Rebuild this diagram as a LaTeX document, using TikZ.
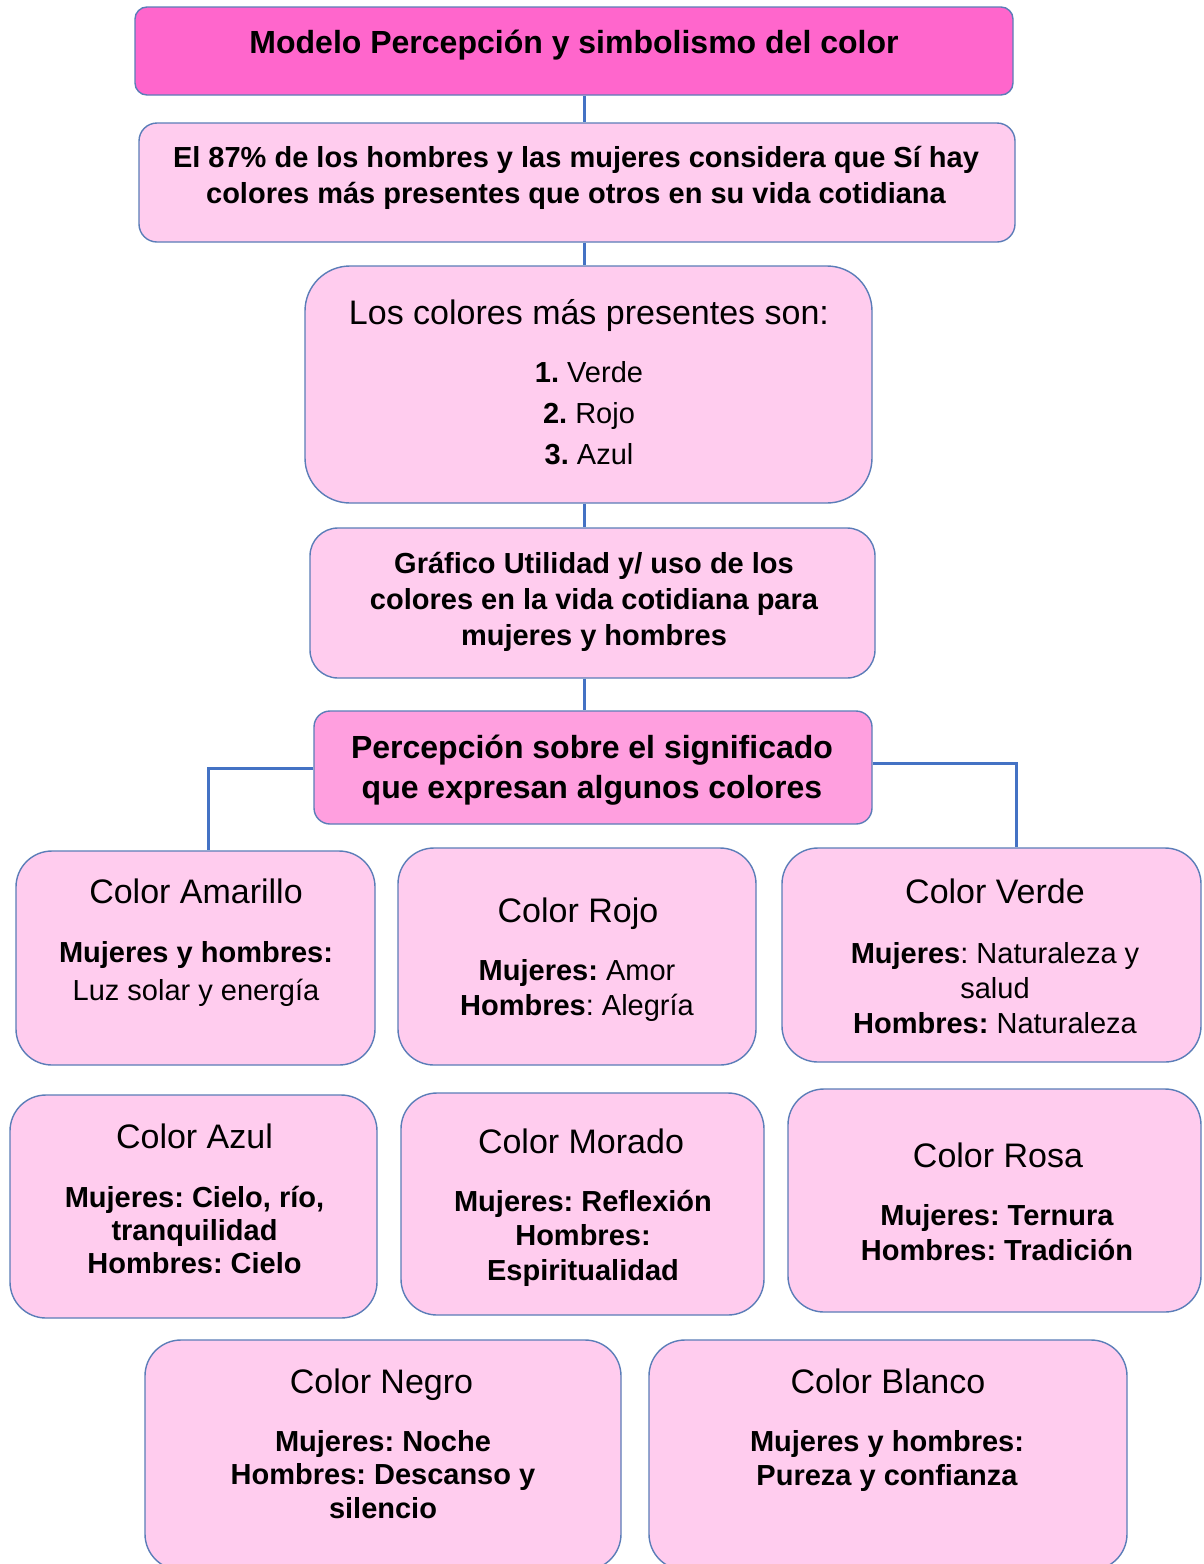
\documentclass[tikz,border=0pt]{standalone}
\usepackage{fontspec}
\setmainfont{Liberation Sans}
\frenchspacing
\definecolor{hotpink}{HTML}{FF66CC}
\definecolor{midpink}{HTML}{FF9FDF}
\definecolor{lpink}{HTML}{FFCCEE}
\definecolor{bordc}{HTML}{5B7DB8}
\definecolor{connc}{HTML}{4472C4}
\newcommand\mylines[3]{\fontsize{#1}{#2}\selectfont\begin{tabular}[t]{@{}c@{}}#3\end{tabular}}
\tikzset{
  bx/.style={draw=bordc, line width=1.4pt, fill=lpink, inner sep=0pt},
  tx/.style={anchor=base, inner sep=0pt, align=center, text=black, execute at begin node=\frenchspacing},
  conn/.style={draw=connc, line width=3pt},
}
\begin{document}
\begin{tikzpicture}[x=1pt,y=-1pt]
\useasboundingbox (0,0) rectangle (1203,1564);
\fill[white] (0,0) rectangle (1203,1564);
% boxes
\node[bx, fill=hotpink, minimum width=878, minimum height=88, rounded corners=12] (t) at (574,51) {};
\node[bx, minimum width=876, minimum height=119, rounded corners=18] (b2) at (577,182.5) {};
\node[bx, minimum width=567, minimum height=237, rounded corners=45] (b3) at (588.5,384.5) {};
\node[bx, minimum width=565, minimum height=150, rounded corners=28] (b4) at (592.5,603) {};
\node[bx, fill=midpink, minimum width=558, minimum height=113, rounded corners=16] (b5) at (593,767.5) {};
\node[bx, minimum width=359, minimum height=214, rounded corners=36] (c1) at (195.5,958) {};
\node[bx, minimum width=358, minimum height=217, rounded corners=36] (c2) at (577,956.5) {};
\node[bx, minimum width=419, minimum height=214, rounded corners=36] (c3) at (991.5,955) {};
\node[bx, minimum width=367, minimum height=223, rounded corners=36] (c4) at (193.5,1206.5) {};
\node[bx, minimum width=363, minimum height=222, rounded corners=36] (c5) at (582.5,1204) {};
\node[bx, minimum width=413, minimum height=223, rounded corners=36] (c6) at (994.5,1200.5) {};
\node[bx, minimum width=476, minimum height=230, rounded corners=36] (c7) at (383,1455) {};
\node[bx, minimum width=478, minimum height=230, rounded corners=36] (c8) at (888,1455) {};
% connectors
\coordinate (spine) at (584,0);
\coordinate (lj) at (208,768);
\coordinate (rj) at (1016,763);
\draw[conn] (t.south -| spine) -- (b2.north -| spine);
\draw[conn] (b2.south -| spine) -- (b3.north -| spine);
\draw[conn] (b3.south -| spine) -- (b4.north -| spine);
\draw[conn] (b4.south -| spine) -- (b5.north -| spine);
\draw[conn] (b5.west |- lj) -- (lj) -- (lj |- c1.north);
\draw[conn] (b5.east |- rj) -- (rj) -- (rj |- c3.north);
% texts
\node[tx] (tt) at (574,53) {\fontsize{32}{38}\selectfont\bfseries Modelo Percepción y simbolismo del color};
\node[tx] (b2t) at (576,167) {\bfseries\mylines{29}{36}{El 87\% de los hombres y las mujeres considera que Sí hay\\ colores más presentes que otros en su vida cotidiana}};
\node[tx] (b3t) at (589,324) {\fontsize{34}{40}\selectfont Los colores más presentes son:};
\node[tx] (b3l) at (589,382) {\mylines{29}{41}{\textbf{1.} Verde\\ \textbf{2.} Rojo\\ \textbf{3.} Azul}};
\node[tx] (b4t) at (594,573) {\bfseries\mylines{29}{36}{Gráfico Utilidad y/ uso de los\\ colores en la vida cotidiana para\\ mujeres y hombres}};
\node[tx] (b5t) at (592,758) {\bfseries\mylines{32}{40}{Percepción sobre el significado\\ que expresan algunos colores}};
%
\node[tx] (c1h) at (196,903) {\fontsize{34}{40}\selectfont Color Amarillo};
\node[tx] (c1b) at (196,962) {\mylines{29}{38}{\textbf{Mujeres y hombres:}\\ Luz solar y energía}};
\node[tx] (c2h) at (578,922) {\fontsize{34}{40}\selectfont Color Rojo};
\node[tx] (c2b) at (577,980) {\mylines{29}{35}{\textbf{Mujeres:} Amor\\ \textbf{Hombres}: Alegría}};
\node[tx] (c3h) at (995,903) {\fontsize{34}{40}\selectfont Color Verde};
\node[tx] (c3b) at (995,963) {\mylines{29}{35}{\textbf{Mujeres}: Naturaleza y\\ salud\\ \textbf{Hombres:} Naturaleza}};
\node[tx] (c4h) at (194.5,1148) {\fontsize{34}{40}\selectfont Color Azul};
\node[tx] (c4b) at (194.5,1207) {\bfseries\mylines{29}{33}{Mujeres: Cielo, río,\\ tranquilidad\\ Hombres: Cielo}};
\node[tx] (c5h) at (581,1153) {\fontsize{34}{40}\selectfont Color Morado};
\node[tx] (c5b) at (583,1211) {\bfseries\mylines{29}{34.5}{Mujeres: Reflexión\\ Hombres:\\ Espiritualidad}};
\node[tx] (c6h) at (998,1167) {\fontsize{34}{40}\selectfont Color Rosa};
\node[tx] (c6b) at (997,1225) {\bfseries\mylines{29}{35}{Mujeres: Ternura\\ Hombres: Tradición}};
\node[tx] (c7h) at (381.5,1393) {\fontsize{34}{40}\selectfont Color Negro};
\node[tx] (c7b) at (383,1451) {\bfseries\mylines{29}{33.5}{Mujeres: Noche\\ Hombres: Descanso y\\ silencio}};
\node[tx] (c8h) at (888,1393) {\fontsize{34}{40}\selectfont Color Blanco};
\node[tx] (c8b) at (887,1451) {\bfseries\mylines{29}{34}{Mujeres y hombres:\\ Pureza y confianza}};
\end{tikzpicture}
\end{document}
